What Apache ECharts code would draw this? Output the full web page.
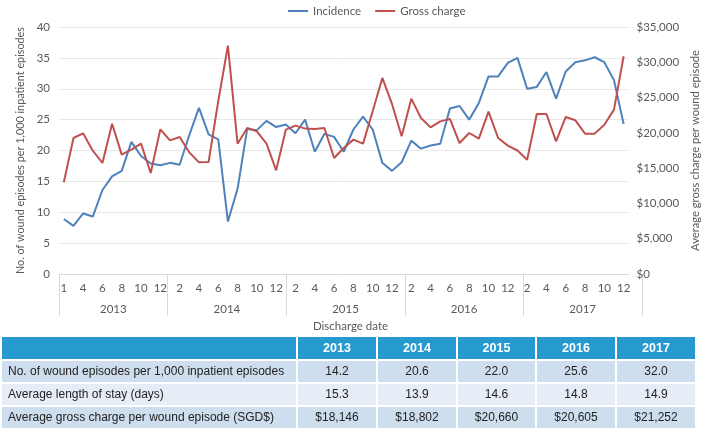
<!DOCTYPE html>
<html>
<head>
<meta charset="utf-8">
<script src="https://cdn.jsdelivr.net/npm/echarts@6/dist/echarts.min.js"></script>
<style>
html,body{margin:0;padding:0;background:#fff;}
#chart{position:absolute;left:0;top:0;width:709px;height:431px;}
#tbl{position:absolute;left:0;top:335px;border-collapse:separate;border-spacing:2px;table-layout:fixed;
  font-family:"Liberation Sans",Arial,sans-serif;font-size:12px;color:#222;}
#tbl td,#tbl th{padding:0;text-align:center;height:21px;line-height:21px;white-space:nowrap;overflow:hidden;}
#tbl th{background:#2699CF;color:#fff;font-weight:bold;font-size:12.5px;height:22px;}
#tbl td.lbl{text-align:left;padding-left:6px;}
#tbl tr.r1 td,#tbl tr.r3 td{background:#CFDEEE;}
#tbl tr.r2 td{background:#E7EDF6;}
</style>
</head>
<body>
<div id="chart"></div>
<table id="tbl"></table>
<script>
// ---- data ----
const years = ['2013', '2014', '2015', '2016', '2017'];
const months2013 = [1, 2, 4, 5, 6, 7, 8, 9, 10, 11, 12];
const monthsFull = [1, 2, 3, 4, 5, 6, 7, 8, 9, 10, 11, 12];

const incidence = [
  8.9, 7.8, 9.8, 9.3, 13.6, 15.8, 16.7, 21.4, 19.1, 17.9, 17.6,
  18.0, 17.7, 22.5, 26.9, 22.6, 21.8, 8.5, 13.8, 23.5, 23.3, 24.8, 23.8,
  24.2, 22.8, 25.0, 19.8, 22.7, 22.2, 19.8, 23.4, 25.5, 23.4, 18.0, 16.7,
  18.1, 21.6, 20.3, 20.8, 21.1, 26.8, 27.2, 25.0, 27.7, 32.0, 32.0, 34.2,
  35.0, 30.0, 30.3, 32.7, 28.4, 32.8, 34.3, 34.6, 35.1, 34.3, 31.4, 24.3
];
const grossCharge = [
  13000, 19270, 19930, 17480, 15730, 21300, 16910, 17620, 18470, 14310, 20500,
  18940, 19410, 17240, 15820, 15870, 24500, 32360, 18470, 20690, 20220, 18470, 14690,
  20450, 21020, 20600, 20550, 20690, 16440, 17860, 19040, 18470, 23050, 27780, 24100,
  19510, 24850, 22100, 20780, 21630, 21970, 18560, 19980, 19180, 23000, 19270, 18190,
  17500, 16200, 22670, 22670, 18800, 22250, 21780, 19890, 19890, 21160, 23290, 30850
];

const leftTicks = { min: 0, max: 40, interval: 5 };
const rightTicks = { min: 0, max: 35000, interval: 5000 };

const tableHeader = ['', '2013', '2014', '2015', '2016', '2017'];
const tableRowLabels = [
  'No. of wound episodes per 1,000 inpatient episodes',
  'Average length of stay (days)',
  'Average gross charge per wound episode (SGD$)'
];
const tableEpisodes = ['14.2', '20.6', '22.0', '25.6', '32.0'];
const tableLOS = ['15.3', '13.9', '14.6', '14.8', '14.9'];
const tableCharge = ['$18,146', '$18,802', '$20,660', '$20,605', '$21,252'];

// ---- build categories ----
const categories = [];
const yearStart = [];
const yearMid = [];
years.forEach(function (y, yi) {
  const ms = yi === 0 ? months2013 : monthsFull;
  yearStart.push(categories.length);
  yearMid.push(categories.length + Math.floor(ms.length / 2));
  ms.forEach(function (m) { categories.push(y + '-' + m); });
});

// ---- table ----
const colW = [294, 78, 78, 77, 78, 78];
(function () {
  const t = document.getElementById('tbl');
  let html = '<colgroup>' + colW.map(function (w) { return '<col style="width:' + w + 'px">'; }).join('') + '</colgroup>';
  html += '<tr>' + tableHeader.map(function (h) { return '<th>' + h + '</th>'; }).join('') + '</tr>';
  const rows = [tableEpisodes, tableLOS, tableCharge];
  rows.forEach(function (r, i) {
    html += '<tr class="r' + (i + 1) + '"><td class="lbl">' + tableRowLabels[i] + '</td>' +
      r.map(function (v) { return '<td>' + v + '</td>'; }).join('') + '</tr>';
  });
  t.innerHTML = html;
})();

// ---- chart ----
const FONT = 'Lato';
const TXT = '#595959';
const chart = echarts.init(document.getElementById('chart'), null, { renderer: 'canvas' });
const gridPos = { left: 59, right: 67, top: 27, bottom: 157 };
chart.setOption({
  animation: false,
  textStyle: { fontFamily: FONT },
  legend: {
    top: 0, left: 283, itemWidth: 20, itemHeight: 2, itemGap: 14, icon: 'rect',
    textStyle: { color: TXT, fontSize: 11.5, fontFamily: FONT },
    data: ['Incidence', 'Gross charge']
  },
  grid: [
    Object.assign({ containLabel: false }, gridPos),
    Object.assign({ containLabel: false }, gridPos)
  ],
  xAxis: [
    {
      type: 'category', gridIndex: 0, data: categories, boundaryGap: true,
      axisLine: { lineStyle: { color: '#d9d9d9' } },
      axisTick: { show: false },
      axisLabel: {
        color: TXT, fontSize: 11.5, margin: 8, fontFamily: FONT,
        interval: function (i) { return i % 2 === 0; },
        formatter: function (v) { return v.split('-')[1]; }
      }
    },
    {
      type: 'category', gridIndex: 1, data: categories, boundaryGap: true, position: 'bottom',
      axisLine: { show: false },
      axisTick: {
        show: true, length: 42, lineStyle: { color: '#d9d9d9' },
        interval: function (i) { return yearStart.indexOf(i) >= 0; }
      },
      axisLabel: {
        color: TXT, fontSize: 11.5, margin: 29, fontFamily: FONT,
        interval: function (i) { return yearMid.indexOf(i) >= 0; },
        formatter: function (v, i) {
          const y = v.split('-')[0];
          return y === years[0] ? '{a|' + y + '}' : '{b|' + y + '}';
        },
        rich: { a: {}, b: { padding: [0, 10, 0, 0] } }
      },
      name: 'Discharge date', nameLocation: 'middle', nameGap: 44,
      nameTextStyle: { color: TXT, fontSize: 11.5, fontFamily: FONT }
    }
  ],
  yAxis: [
    {
      type: 'value', gridIndex: 0, min: leftTicks.min, max: leftTicks.max, interval: leftTicks.interval,
      axisLine: { show: false }, axisTick: { show: false },
      splitLine: { lineStyle: { color: '#e8e8e8' } },
      axisLabel: { color: TXT, fontSize: 11.5, margin: 9, fontFamily: FONT },
      name: 'No. of wound episodes per 1,000 inpatient episodes', nameLocation: 'middle', nameGap: 31,
      nameTextStyle: { color: TXT, fontSize: 10.8, fontFamily: FONT }
    },
    {
      type: 'value', gridIndex: 0, position: 'right', min: rightTicks.min, max: rightTicks.max, interval: rightTicks.interval,
      axisLine: { show: false }, axisTick: { show: false }, splitLine: { show: false },
      axisLabel: {
        color: TXT, fontSize: 11.5, margin: 8, fontFamily: FONT,
        formatter: function (v) { return '$' + v.toLocaleString('en-US'); }
      },
      name: 'Average gross charge per wound episode', nameLocation: 'middle', nameGap: 52,
      nameTextStyle: { color: TXT, fontSize: 11.2, fontFamily: FONT }
    },
    { type: 'value', gridIndex: 1, show: false }
  ],
  series: [
    {
      name: 'Incidence', type: 'line', xAxisIndex: 0, yAxisIndex: 0, data: incidence,
      showSymbol: false, symbol: 'none', lineStyle: { color: '#4F81BD', width: 2 }, itemStyle: { color: '#4F81BD' }
    },
    {
      name: 'Gross charge', type: 'line', xAxisIndex: 0, yAxisIndex: 1, data: grossCharge,
      showSymbol: false, symbol: 'none', lineStyle: { color: '#C0504D', width: 2 }, itemStyle: { color: '#C0504D' }
    }
  ]
});
</script>
</body>
</html>
